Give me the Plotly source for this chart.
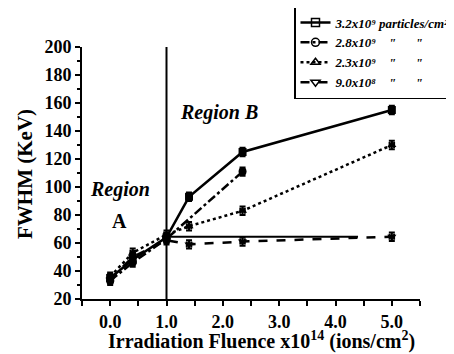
import plotly.graph_objects as go

# Data
x_sq = [0.0, 0.4, 1.0, 1.4, 2.35, 5.0]
y_sq = [35, 48, 64, 93, 125, 155]
x_ci = [0.0, 0.4, 1.0, 2.35]
y_ci = [33, 46, 63, 111]
x_tu = [0.0, 0.4, 1.0, 1.4, 2.35, 5.0]
y_tu = [36, 53, 66, 72, 83, 130]
x_td = [0.0, 0.4, 1.0, 1.4, 2.35, 5.0]
y_td = [34, 50, 62, 59, 61, 64.5]

series = [
    ("3.2x10⁹ particles/cm²", x_sq, y_sq, "solid", "square"),
    ("2.8x10⁹    \"      \"", x_ci, y_ci, "dashdot", "circle"),
    ("2.3x10⁹    \"      \"", x_tu, y_tu, "dot", "triangle-up"),
    ("9.0x10⁸    \"      \"", x_td, y_td, "dash", "triangle-down"),
]

fig = go.Figure()
for name, xs, ys, dash, sym in series:
    fig.add_trace(go.Scatter(
        x=xs, y=ys, mode="lines+markers", showlegend=False,
        line=dict(color="black", width=2.5, dash=dash),
        marker=dict(symbol=sym, size=8, color="black"),
        error_y=dict(type="constant", value=3, color="black", thickness=2, width=3),
        error_x=dict(type="constant", value=0.04, color="black", thickness=2, width=3),
    ))
for name, xs, ys, dash, sym in series:
    fig.add_trace(go.Scatter(
        x=[None], y=[None], mode="lines+markers", name=name,
        line=dict(color="black", width=2.5, dash=dash),
        marker=dict(symbol=sym + "-open", size=8, color="black", line=dict(width=1.5)),
    ))

serif = "Liberation Serif"
fig.add_shape(type="line", x0=1.0, x1=1.0, y0=20, y1=200, xref="x", yref="y",
              line=dict(color="black", width=2))
fig.add_shape(type="line", x0=1.0, x1=4.4, y0=64.5, y1=64.5, xref="x", yref="y",
              line=dict(color="black", width=2))
# legend shadow
fig.add_shape(type="rect", xref="paper", yref="paper",
              x0=(297 - 82) / 338, x1=(470 - 82) / 338,
              y0=(299 - 83) / 252, y1=(299 - 12) / 252,
              fillcolor="black", line=dict(width=0), layer="below")

fig.add_annotation(x=1.93, y=153, text="<b><i>Region B</i></b>", showarrow=False,
                   font=dict(family=serif, size=20, color="black"))
fig.add_annotation(x=0.17, y=98, text="<b><i>Region</i></b>", showarrow=False,
                   font=dict(family=serif, size=20, color="black"))
fig.add_annotation(x=0.17, y=76, text="<b>A</b>", showarrow=False,
                   font=dict(family=serif, size=20, color="black"))

# axis titles
fig.add_annotation(xref="paper", yref="paper", x=(261 - 82) / 338, y=(299 - 340) / 252,
                   text="<b>Irradiation Fluence x10<sup>14</sup> (ions/cm<sup>2</sup>)</b>",
                   showarrow=False, xanchor="center", yanchor="middle",
                   font=dict(family=serif, size=20, color="black"))
fig.add_annotation(xref="paper", yref="paper", x=(25 - 82) / 338, y=(299 - 174) / 252,
                   text="<b>FWHM (KeV)</b>", textangle=-90,
                   showarrow=False, xanchor="center", yanchor="middle",
                   font=dict(family=serif, size=21, color="black"))

axis_font = dict(family=serif, size=18, color="black", weight="bold")
fig.update_xaxes(range=[-0.5, 5.5], dtick=1, tick0=0, tickformat=".1f",
                 showline=True, linecolor="black", linewidth=2, showgrid=False, zeroline=False,
                 ticks="outside", ticklen=5, tickwidth=2, tickcolor="black",
                 minor=dict(dtick=0.5, ticks="outside", ticklen=5, tickwidth=2, tickcolor="black"),
                 tickfont=axis_font)
fig.update_yaxes(range=[20, 200], dtick=20,
                 showline=True, linecolor="black", linewidth=2, showgrid=False, zeroline=False,
                 ticks="outside", ticklen=5, tickwidth=2, tickcolor="black",
                 minor=dict(dtick=10, ticks="outside", ticklen=3, tickwidth=2, tickcolor="black"),
                 tickfont=axis_font)

fig.update_layout(
    width=446, height=346,
    margin=dict(l=74, r=34, t=39, b=55, autoexpand=False),
    font=dict(family=serif),
    plot_bgcolor="white", paper_bgcolor="white",
    legend=dict(x=(294 - 82) / 338, y=(299 - 6) / 252, xanchor="left", yanchor="top",
                bgcolor="white", bordercolor="black", borderwidth=1.5,
                font=dict(family=serif, size=13, color="black", weight="bold", style="italic"),
                tracegroupgap=0, itemwidth=30),
)

fig.write_html("out.html")
